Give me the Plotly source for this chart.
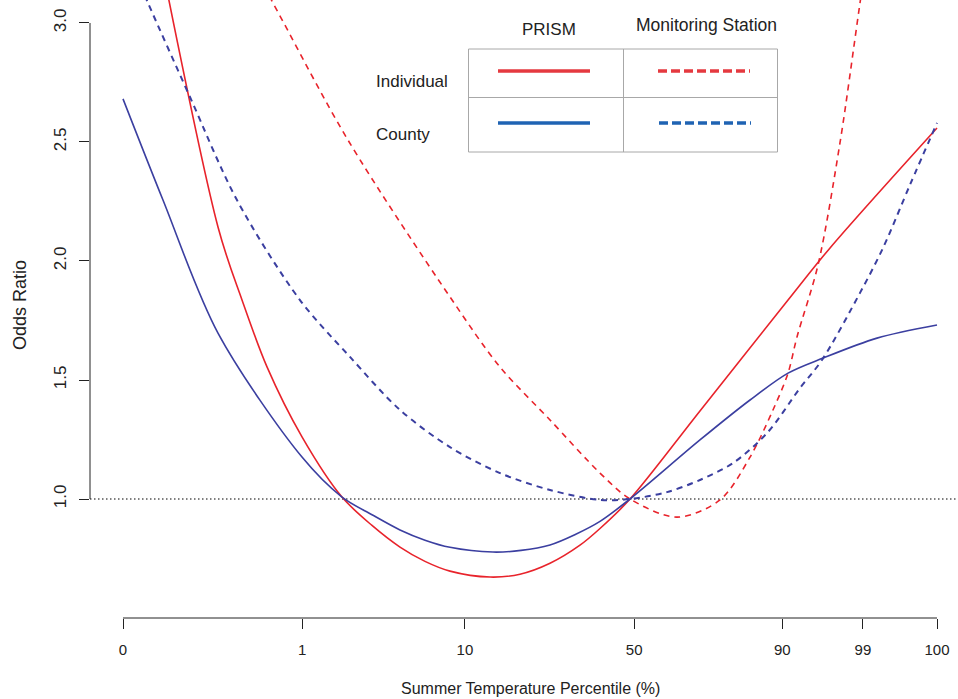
import plotly.graph_objects as go

# ---------------- data ----------------
# x is the position on the (non-linear) percentile axis, 0..100 scale units
tick_pos = [0, 22.0, 42.0, 62.8, 81.0, 90.9, 100]
tick_text = ["0", "1", "10", "50", "90", "99", "100"]

# Individual, PRISM (solid red)
ind_prism_x = [0, 11.67, 14.62, 17.69, 21.99, 26.90, 30.59, 34.03, 37.10, 40.17, 45.09, 48.77, 52.46, 56.14, 58.60, 62.29, 70.88, 81.70, 86.86, 100]
ind_prism_y = [4.071, 2.143, 1.836, 1.555, 1.261, 1.008, 0.889, 0.798, 0.738, 0.697, 0.672, 0.684, 0.730, 0.806, 0.876, 1.0, 1.370, 1.836, 2.055, 2.559]

# Individual, Monitoring station (dashed red)
ind_mon_x = [0, 18.43, 27.64, 40.17, 46.31, 52.46, 58.60, 62.29, 68.06, 73.34, 77.03, 79.85, 81.70, 82.80, 85.38, 88.08, 90.54, 95, 100]
ind_mon_y = [4.252, 3.084, 2.508, 1.849, 1.555, 1.332, 1.109, 1.0, 0.924, 0.996, 1.176, 1.374, 1.529, 1.681, 1.983, 2.496, 3.084, 4.14, 5.35]

# County, PRISM (solid blue)
cty_prism_x = [0, 4.91, 11.67, 21.99, 26.90, 30.59, 34.03, 37.10, 40.17, 45.45, 48.90, 52.46, 55.50, 58.60, 62.29, 70.88, 77.03, 81.70, 86.00, 92.63, 100]
cty_prism_y = [2.681, 2.256, 1.697, 1.176, 1.008, 0.934, 0.870, 0.827, 0.797, 0.777, 0.784, 0.807, 0.850, 0.906, 1.0, 1.248, 1.416, 1.529, 1.592, 1.676, 1.731]

# County, Monitoring station (dashed blue)
cty_mon_x = [0, 3.07, 8.23, 14.0, 21.74, 27.89, 34.03, 40.17, 46.31, 52.46, 58.60, 62.29, 66.83, 70.88, 74.94, 79.12, 83.17, 85.87, 90.54, 93.37, 96.68, 100]
cty_mon_y = [3.328, 3.084, 2.689, 2.256, 1.836, 1.597, 1.374, 1.218, 1.109, 1.038, 0.996, 1.0, 1.029, 1.080, 1.151, 1.277, 1.466, 1.584, 1.866, 2.055, 2.320, 2.580]

y_ticks = [1.0, 1.5, 2.0, 2.5, 3.0]
y_tick_text = ["1.0", "1.5", "2.0", "2.5", "3.0"]

# ---------------- style ----------------
W, H = 958, 699
ML, MR, MT, MB = 90, 0, 0, 81
RED = "#E8232B"
BLUE = "#3B3FA0"
LEG_RED = "#E5393F"
LEG_BLUE = "#1F63B3"
FONT = "Liberation Sans, Arial, sans-serif"
TXT = "#222222"

pw, ph = W - ML - MR, H - MT - MB


def pxx(x):
    return (x - ML) / pw


def pxy(y):
    return (H - MB - y) / ph


fig = go.Figure()

fig.add_trace(go.Scatter(x=ind_prism_x, y=ind_prism_y, mode="lines",
                         line=dict(color=RED, width=1.6, shape="spline", smoothing=0.9),
                         name="Individual PRISM"))
fig.add_trace(go.Scatter(x=ind_mon_x, y=ind_mon_y, mode="lines",
                         line=dict(color=RED, width=1.6, dash="6px,5px", shape="spline", smoothing=0.9),
                         name="Individual Monitoring Station"))
fig.add_trace(go.Scatter(x=cty_prism_x, y=cty_prism_y, mode="lines",
                         line=dict(color=BLUE, width=1.6, shape="spline", smoothing=0.9),
                         name="County PRISM"))
fig.add_trace(go.Scatter(x=cty_mon_x, y=cty_mon_y, mode="lines",
                         line=dict(color=BLUE, width=2, dash="6px,5px", shape="spline", smoothing=0.9),
                         name="County Monitoring Station"))

shapes = []
# reference line at OR = 1
shapes.append(dict(type="line", xref="paper", yref="y", x0=0, x1=1, y0=1, y1=1,
                   line=dict(color="#555555", width=1.3, dash="1.5px,2.5px"), layer="below"))
# R-style axis lines
shapes.append(dict(type="line", xref="paper", yref="y", x0=0, x1=0, y0=y_ticks[0], y1=y_ticks[-1],
                   line=dict(color="#222222", width=1)))
shapes.append(dict(type="line", xref="x", yref="paper", x0=tick_pos[0], x1=tick_pos[-1], y0=0, y1=0,
                   line=dict(color="#222222", width=1)))

# table-style legend
BOX = "#A8A8A8"
shapes.append(dict(type="rect", xref="paper", yref="paper", x0=pxx(468.5), x1=pxx(777.5),
                   y0=pxy(152), y1=pxy(49), line=dict(color=BOX, width=1), fillcolor="white"))
shapes.append(dict(type="line", xref="paper", yref="paper", x0=pxx(468.5), x1=pxx(777.5),
                   y0=pxy(97.5), y1=pxy(97.5), line=dict(color=BOX, width=1)))
shapes.append(dict(type="line", xref="paper", yref="paper", x0=pxx(623.5), x1=pxx(623.5),
                   y0=pxy(152), y1=pxy(49), line=dict(color=BOX, width=1)))
shapes.append(dict(type="line", xref="paper", yref="paper", x0=pxx(498), x1=pxx(590),
                   y0=pxy(71), y1=pxy(71), line=dict(color=LEG_RED, width=3.5)))
shapes.append(dict(type="line", xref="paper", yref="paper", x0=pxx(658), x1=pxx(750),
                   y0=pxy(71), y1=pxy(71), line=dict(color=LEG_RED, width=3.5, dash="9px,4px")))
shapes.append(dict(type="line", xref="paper", yref="paper", x0=pxx(498), x1=pxx(590),
                   y0=pxy(123), y1=pxy(123), line=dict(color=LEG_BLUE, width=3.5)))
shapes.append(dict(type="line", xref="paper", yref="paper", x0=pxx(659), x1=pxx(751),
                   y0=pxy(123), y1=pxy(123), line=dict(color=LEG_BLUE, width=3.5, dash="9px,4px")))

annotations = [
    dict(text="PRISM", x=pxx(549), y=pxy(29), xref="paper", yref="paper", showarrow=False,
         xanchor="center", yanchor="middle", font=dict(size=17, color=TXT, family=FONT)),
    dict(text="Monitoring Station", x=pxx(706), y=pxy(25), xref="paper", yref="paper", showarrow=False,
         xanchor="center", yanchor="middle", font=dict(size=17.5, color=TXT, family=FONT)),
    dict(text="Individual", x=pxx(374), y=pxy(81), xref="paper", yref="paper", showarrow=False,
         xanchor="left", yanchor="middle", font=dict(size=17, color=TXT, family=FONT)),
    dict(text="County", x=pxx(374), y=pxy(134), xref="paper", yref="paper", showarrow=False,
         xanchor="left", yanchor="middle", font=dict(size=17, color=TXT, family=FONT)),
    dict(text="Summer Temperature Percentile (%)", x=pxx(530), y=pxy(688), xref="paper", yref="paper",
         showarrow=False, xanchor="center", yanchor="middle", font=dict(size=16, color=TXT, family=FONT)),
    dict(text="Odds Ratio", x=pxx(20), y=pxy(305), xref="paper", yref="paper", textangle=-90,
         showarrow=False, xanchor="center", yanchor="middle", font=dict(size=18, color=TXT, family=FONT)),
]

fig.update_layout(
    width=W, height=H,
    margin=dict(l=ML, r=MR, t=MT, b=MB, pad=0),
    paper_bgcolor="white", plot_bgcolor="white",
    showlegend=False,
    shapes=shapes,
    annotations=annotations,
    font=dict(family=FONT, color=TXT),
    xaxis=dict(range=[(90 - 123) / 8.14, (958 - 123) / 8.14], tickmode="array", tickvals=tick_pos,
               ticktext=tick_text, ticks="outside", ticklen=10, tickcolor="#222222", tickwidth=1,
               showline=False, showgrid=False, zeroline=False,
               tickfont=dict(size=15, color=TXT, family=FONT), ticklabelstandoff=8),
    yaxis=dict(range=[0.5, 3.0966], tickmode="array", tickvals=y_ticks, ticktext=y_tick_text,
               ticks="outside", ticklen=10, tickcolor="#222222", tickwidth=1, tickangle=-90,
               showline=False, showgrid=False, zeroline=False,
               tickfont=dict(size=17, color=TXT, family=FONT), ticklabelstandoff=6),
)

fig.write_html("out.html", config={"displayModeBar": False},
               post_script="document.body.style.margin='0';document.body.style.overflow='hidden';")
